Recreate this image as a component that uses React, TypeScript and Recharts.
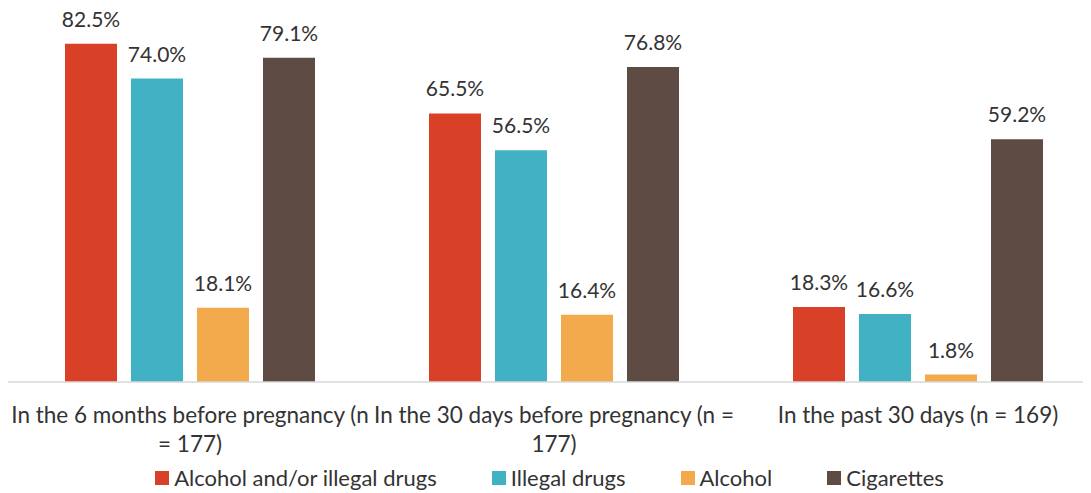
import React from 'react';
import { BarChart, Bar, XAxis, YAxis, Legend, LabelList } from 'recharts';

const categories = [
  'In the 6 months before pregnancy (n = 177)',
  'In the 30 days before pregnancy (n = 177)',
  'In the past 30 days (n = 169)',
];
const tickLines = [
  ['In the 6 months before pregnancy (n', '= 177)'],
  ['In the 30 days before pregnancy (n =', '177)'],
  ['In the past 30 days (n = 169)'],
];
const alcoholOrDrugs = [82.5, 65.5, 18.3];
const illegalDrugs = [74.0, 56.5, 16.6];
const alcohol = [18.1, 16.4, 1.8];
const cigarettes = [79.1, 76.8, 59.2];

const series = [
  { key: 'alcoholOrDrugs', name: 'Alcohol and/or illegal drugs', color: '#D84127' },
  { key: 'illegalDrugs', name: 'Illegal drugs', color: '#40B2C3' },
  { key: 'alcohol', name: 'Alcohol', color: '#F2AA4C' },
  { key: 'cigarettes', name: 'Cigarettes', color: '#5D4B44' },
];

const data = categories.map((name, i) => ({
  name,
  alcoholOrDrugs: alcoholOrDrugs[i],
  illegalDrugs: illegalDrugs[i],
  alcohol: alcohol[i],
  cigarettes: cigarettes[i],
}));

const FONT = 'Lato, sans-serif';
const TEXT = '#333333';

function CategoryTick(props: any) {
  const { x, y, index } = props;
  const lines = tickLines[index] || [];
  return (
    <g>
      {lines.map((line, i) => (
        <text
          key={i}
          x={x}
          y={y + 33 + i * 29}
          textAnchor="middle"
          fontFamily={FONT}
          fontSize={22.5}
          fill={TEXT}
        >
          {line}
        </text>
      ))}
    </g>
  );
}

function LegendContent() {
  return (
    <div
      style={{
        display: 'flex',
        justifyContent: 'center',
        gap: 55,
        fontFamily: FONT,
        fontSize: 22,
        lineHeight: '25px',
        color: TEXT,
      }}
    >
      {series.map(s => (
        <div key={s.key} style={{ display: 'flex', alignItems: 'center' }}>
          <span style={{ width: 14, height: 14, background: s.color, display: 'inline-block', marginRight: 5 }} />
          <span>{s.name}</span>
        </div>
      ))}
    </div>
  );
}

export default function App() {
  return (
    <div style={{ width: 1083, height: 493, overflow: 'hidden', marginTop: -8 }}>
      <BarChart
        width={1092}
        height={493}
        data={data}
        margin={{ top: 13, right: 0, bottom: 26, left: 0 }}
        barGap={14}
        barSize={52}
      >
        <XAxis
          dataKey="name"
          tick={<CategoryTick />}
          tickLine={false}
          axisLine={{ stroke: '#D9D9D9', strokeWidth: 1.5 }}
          interval={0}
          height={60}
        />
        <YAxis hide domain={[0, 90]} />
        <Legend
          content={<LegendContent />}
          verticalAlign="bottom"
          wrapperStyle={{ bottom: 3, left: 0, width: 1083, height: 25 }}
        />
        {series.map(s => (
          <Bar key={s.key} dataKey={s.key} name={s.name} fill={s.color} isAnimationActive={false}>
            <LabelList
              dataKey={s.key}
              position="top"
              offset={17}
              formatter={(v: any) => `${Number(v).toFixed(1)}%`}
              style={{ fontFamily: FONT, fontSize: 21, fill: TEXT }}
            />
          </Bar>
        ))}
      </BarChart>
    </div>
  );
}
